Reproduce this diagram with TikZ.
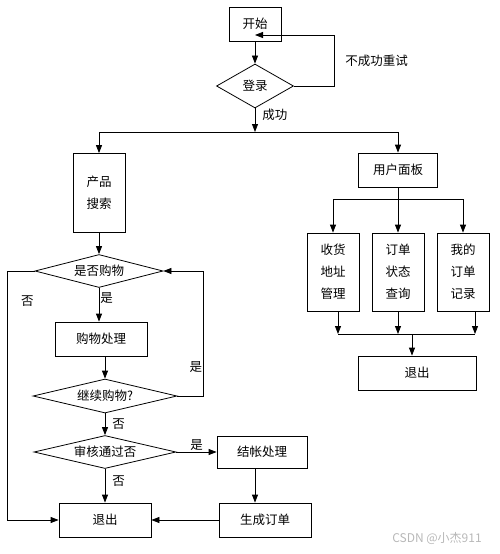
\documentclass[tikz,border=0pt]{standalone}
\usepackage{fontspec}
\setmainfont{Noto Sans CJK SC}
\usetikzlibrary{shapes.geometric,arrows.meta}

\begin{document}
\begin{tikzpicture}[x=1pt, y=1pt, node distance=60pt, line width=0.8pt,
    >={Triangle[length=8pt,width=6pt]},
    font=\fontsize{12.5}{22}\selectfont,
    box/.style={draw, rectangle, inner sep=0pt, align=center},
    decision/.style={draw, diamond, inner sep=0pt},
    lbl/.style={inner sep=1pt}]
    \useasboundingbox (0,0) rectangle (500,-554);

    \node[box, minimum width=52pt, minimum height=34pt] (start) at (255,-24) {开始};
    \node[decision, aspect=1.75, minimum width=77pt, minimum height=44pt, below of=start, node distance=62pt] (login) {登录};
    \node[box, minimum width=52pt, minimum height=79pt, below of=login, node distance=107pt, xshift=-156pt] (search) {产品\\搜索};
    \node[box, minimum width=79pt, minimum height=34pt, below of=login, node distance=84pt, xshift=143pt] (panel) {用户面板};
    \node[box, minimum width=52pt, minimum height=78pt, below of=panel, node distance=102pt] (status) {订单\\状态\\查询};
    \node[box, minimum width=52pt, minimum height=78pt, left of=status, node distance=65pt] (addr) {收货\\地址\\管理};
    \node[box, minimum width=52pt, minimum height=78pt, right of=status, node distance=65pt] (record) {我的\\订单\\记录};
    \node[box, minimum width=118pt, minimum height=34pt, below of=status, node distance=101pt, xshift=19pt] (exitR) {退出};

    \node[decision, aspect=3.9, minimum width=128pt, minimum height=33pt, below of=search, node distance=78pt] (buy) {是否购物};
    \node[box, minimum width=92pt, minimum height=34pt, below of=buy, node distance=68pt, xshift=2pt] (process) {购物处理};
    \node[decision, aspect=4.2, minimum width=144pt, minimum height=34pt, below of=process, node distance=57pt, xshift=4pt] (cont) {继续购物?};
    \node[decision, aspect=4.3, minimum width=142pt, minimum height=33pt, below of=cont, node distance=56pt] (audit) {审核通过否};
    \node[box, minimum width=92pt, minimum height=34pt, below of=audit, node distance=68pt] (exitL) {退出};
    \node[box, minimum width=90pt, minimum height=32pt, right of=audit, node distance=157pt] (checkout) {结帐处理};
    \node[box, minimum width=92pt, minimum height=34pt, right of=exitL, node distance=160pt] (gen) {生成订单};

    \node[text=black!28, font=\fontsize{12}{14}\selectfont] (mark) at (437,-538) {CSDN @小杰911};

    \coordinate[below of=start, node distance=11pt] (retry);
    \coordinate[below of=login, node distance=46pt] (split);
    \coordinate[below of=panel, node distance=29pt] (panelsplit);
    \coordinate[above of=exitR, node distance=39pt, xshift=-5pt] (merge);

    % login
    \draw[->] (start) -- (login);
    \draw[->] (login.east) -- ++(40,0) |- node[lbl, pos=0.25, right=10pt] (retrylbl) {不成功重试} (retry);
    \draw[->] (login.south) -- node[lbl, pos=0.25, right=6pt] (oklbl) {成功} (split);
    \draw[->] (split) -| (search.north);
    \draw[->] (split) -| (panel.north);

    % user panel
    \draw (panel.south) -- (panelsplit);
    \draw[->] (panelsplit) -| (addr.north);
    \draw[->] (panelsplit) -- (status.north);
    \draw[->] (panelsplit) -| (record.north);
    \draw[->] ([xshift=5pt]addr.south) -- ([xshift=5pt]addr.south |- merge);
    \draw[->] (status.south) -- (status.south |- merge);
    \draw[->] ([xshift=12pt]record.south) -- ([xshift=12pt]record.south |- merge);
    \draw ([xshift=5pt]addr.south |- merge) -- ([xshift=12pt]record.south |- merge);
    \draw[->] (merge) -- (merge |- exitR.north);

    % shopping
    \draw[->] (search) -- (buy);
    \draw[->] (buy.south) -- node[lbl, pos=0.3, right] (yes1) {是} (buy.south |- process.north);
    \draw[->] (cont.north |- process.south) -- (cont.north);
    \draw[->] (cont.east) -- ++(26,0) |- node[lbl, pos=0.115, left] (yes2) {是} (buy.east);
    \draw[->] (buy.west) -- ++(-27,0) |- node[lbl, pos=0.06, right=12pt] (no1) {否} (exitL.west);
    \draw[->] (cont.south) -- node[lbl, right=6pt] (no2) {否} (audit.north);
    \draw[->] (audit.east) -- node[lbl, above] (yes3) {是} (checkout.west);
    \draw[->] (audit.south) -- node[lbl, pos=0.35, right=6pt] (no3) {否} (exitL.north);
    \draw[->] ([xshift=-7pt]checkout.south) -- ([xshift=-7pt]checkout.south |- gen.north);
    \draw[->] (gen.west) -- (exitL.east);
\end{tikzpicture}
\end{document}
